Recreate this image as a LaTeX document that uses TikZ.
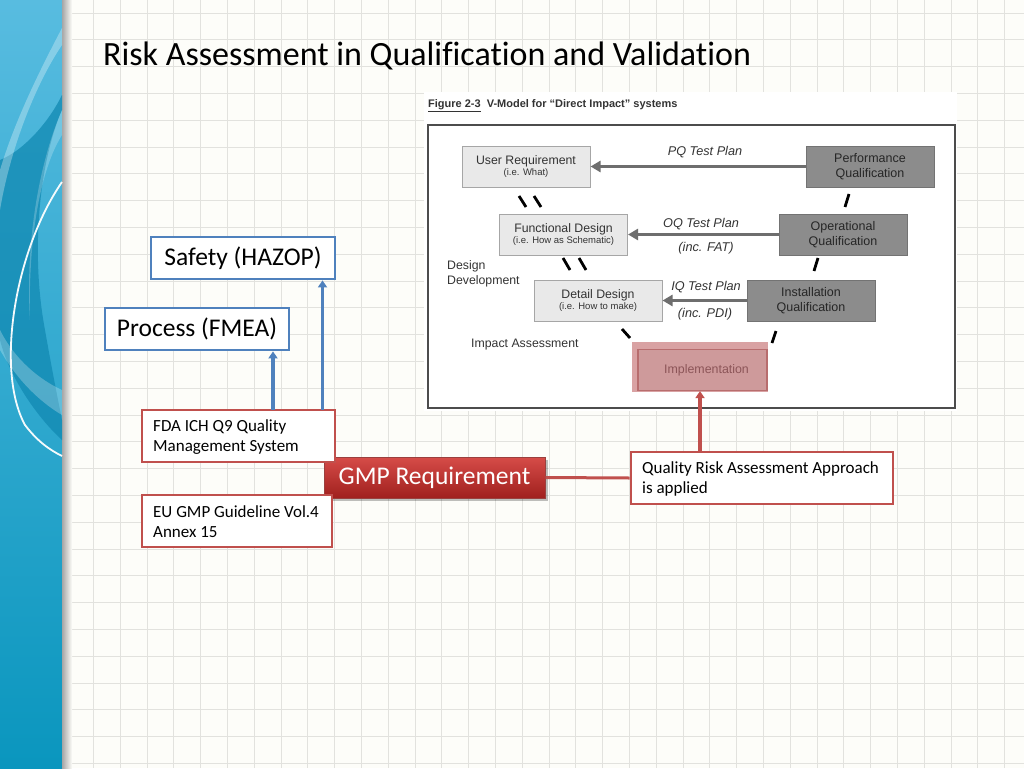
\documentclass[tikz,border=0pt]{standalone}
\usepackage{fontspec}
\setmainfont{Carlito}[RawFeature=-liga]
\newfontfamily\arialf{Liberation Sans}
\usetikzlibrary{arrows.meta}
\definecolor{bluebox}{HTML}{4F81BD}
\definecolor{redbox}{HTML}{C0504D}
\definecolor{gridc}{HTML}{E2E2DE}
\definecolor{bgc}{HTML}{FDFDF9}
\definecolor{lightbox}{HTML}{E9E9E9}
\definecolor{darkbox}{HTML}{8C8C8C}
\definecolor{arrowgray}{HTML}{6E6E6E}
\definecolor{pinkc}{HTML}{D9A2A3}
\definecolor{pinkb}{HTML}{B86D6E}
\definecolor{pinktext}{HTML}{8C5558}
\definecolor{figtext}{HTML}{333333}
\definecolor{paneltop}{HTML}{58BCE0}
\definecolor{panelbot}{HTML}{0A96BE}
\definecolor{paneldark}{HTML}{1189B2}
\definecolor{gmptop}{HTML}{D64C48}
\definecolor{gmpbot}{HTML}{A0201E}
\tikzset{
  bluenode/.style={draw=bluebox, line width=2.8pt, fill=white, minimum width=184pt, minimum height=42pt, inner sep=0pt, font=\fontsize{25.5}{30}\selectfont},
  rednode/.style={draw=redbox, line width=2.8pt, fill=white, minimum height=52pt, inner sep=0pt},
  smalltext/.style={anchor=west, align=left, font=\fontsize{17}{20}\selectfont, inner sep=0pt},
  vlight/.style={draw=gray!70, line width=1pt, fill=lightbox, minimum width=128pt, minimum height=41pt, inner sep=0pt, align=center, text=figtext},
  vdark/.style={draw=gray!90!black, line width=1pt, fill=darkbox, minimum width=128pt, minimum height=41pt, inner sep=0pt, align=center, text=black!85, font=\arialf\fontsize{12.5}{14.5}\selectfont},
  vlabel/.style={font=\arialf\itshape\fontsize{12.7}{15}\selectfont, text=figtext, inner sep=0pt},
  vplain/.style={font=\arialf\fontsize{12.3}{15}\selectfont, text=figtext, inner sep=0pt, align=left},
  varrow/.style={draw=arrowgray, line width=2.8pt, -{Triangle[length=10pt,width=11pt]}},
  slash/.style={draw=black, line width=2.8pt},
  bluearrow/.style={draw=bluebox, line width=3.4pt, -{Triangle[length=7pt,width=9pt]}},
  redarrow/.style={draw=redbox, line width=3.2pt, -{Triangle[length=7pt,width=9pt]}},
  redline/.style={draw=redbox, line width=3pt},
}
\newcommand{\vbigtxt}[1]{{\fontsize{12.3}{14}\selectfont #1}}
\newcommand{\vsmalltxt}[1]{{\fontsize{9.5}{12}\selectfont #1}}
\begin{document}
\begin{tikzpicture}[x=1pt,y=-1pt]
\useasboundingbox (0,0) rectangle (1024,768);
% background and grid
\fill[bgc] (0,0) rectangle (1024,768);
\foreach \i in {0,...,38} \draw[gridc, line width=0.9pt] (13+\i*26.8,0) -- ++(0,768);
\foreach \j in {0,...,28} \draw[gridc, line width=0.9pt] (0,13+\j*26.8) -- ++(1024,0);
% left panel
\shade[top color=paneltop, bottom color=panelbot] (0,0) rectangle (62,768);
\shade[left color=black!35, right color=bgc] (62,0) rectangle (72,768);
\fill[paneldark, opacity=0.75] (0,160) .. controls (25,150) and (50,120) .. (62,95) -- (62,110) .. controls (40,160) and (30,250) .. (45,330) .. controls (52,370) and (58,400) .. (62,420) -- (62,440) .. controls (40,420) and (10,380) .. (0,340) -- cycle;
\fill[white, opacity=0.3] (62,45) .. controls (35,85) and (10,150) .. (0,210) -- (0,170) .. controls (15,120) and (40,70) .. (62,28) -- cycle;
\fill[white, opacity=0.22] (62,110) .. controls (40,160) and (25,240) .. (30,320) .. controls (28,240) and (40,170) .. (62,135) -- cycle;
\draw[white, line width=1.8pt, opacity=0.95] (62,182) .. controls (15,250) and (-5,370) .. (25,425) .. controls (38,442) and (50,450) .. (62,456);
\fill[white, opacity=0.25] (62,390) .. controls (40,380) and (15,360) .. (0,330) -- (0,350) .. controls (20,385) and (45,405) .. (62,415) -- cycle;
% title
\node[anchor=base west, font=\fontsize{34}{40}\selectfont, inner sep=0pt] (title) at (103,65) {Risk Assessment in Qualification and Validation};
% figure area
\fill[white] (424,92) rectangle (957,411);
\node[anchor=base west, inner sep=0pt, font=\arialf\bfseries\fontsize{11}{13}\selectfont, text=figtext] (caption) at (428,107) {\underline{Figure 2-3}\hspace{6pt}V-Model for “Direct Impact” systems};
\draw[black!70, line width=1.3pt] (428,125) rectangle (955,408);
% V-model boxes
\node[vlight] (ur) at (526,166.5) {\arialf\vbigtxt{User Requirement}\\[-1pt]\arialf\vsmalltxt{(i.e. What)}};
\node[vdark] (pq) at (870,166.5) {Performance\\Qualification};
\node[vlight] (fd) at (563.5,234.5) {\arialf\vbigtxt{Functional Design}\\[-1pt]\arialf\vsmalltxt{(i.e. How as Schematic)}};
\node[vdark] (oq) at (843,234.5) {Operational\\Qualification};
\node[vlight] (dd) at (598,300.5) {\arialf\vbigtxt{Detail Design}\\[-1pt]\arialf\vsmalltxt{(i.e. How to make)}};
\node[vdark] (iq) at (811,300.5) {Installation\\Qualification};
\fill[pinkc] (632,342) rectangle (768,392);
\node[draw=pinkb, line width=1.2pt, fill=pinkc!95!black, minimum width=129pt, minimum height=41pt, inner sep=0pt, font=\arialf\fontsize{12.4}{14}\selectfont, text=pinktext] (impl) at (702.5,370) {\hspace{8pt}Implementation};
% V-model arrows and labels
\draw[varrow] (pq.west) -- (ur.east);
\draw[varrow] (oq.west) -- (fd.east);
\draw[varrow] (iq.west) -- (dd.east);
\node[vlabel] (pql) at (705,152) {PQ Test Plan};
\node[vlabel] (oql) at (701,224) {OQ Test Plan};
\node[vlabel] (fat) at (706,248) {(inc. FAT)};
\node[vlabel] (iql) at (706,287) {IQ Test Plan};
\node[vlabel] (pdi) at (705,314) {(inc. PDI)};
\node[vplain, anchor=west] (dev) at (447,274) {Design\\Development};
\node[vplain, anchor=west] (ia) at (471,345) {Impact Assessment};
% slashes
\draw[slash] (519,196) -- (526,207);
\draw[slash] (534,196) -- (541,207);
\draw[slash] (849,194) -- (845,207);
\draw[slash] (563,258) -- (570,270);
\draw[slash] (579,258) -- (586,270);
\draw[slash] (818,258) -- (814,271);
\draw[slash] (622,329) -- (630,338);
\draw[slash] (776,331) -- (772,343);
% left boxes
\node[bluenode] (safety) at (243,258) {Safety (HAZOP)};
\node[bluenode] (process) at (197,329) {Process (FMEA)};
\fill[black, opacity=0.25] (327,460) rectangle (548,501);
\node[draw=redbox!80!black, line width=1pt, top color=gmptop, bottom color=gmpbot, minimum width=221pt, minimum height=41pt, inner sep=0pt, text=white, font=\fontsize{25.5}{30}\selectfont] (gmp) at (434.5,477.5) {GMP Requirement};
\node[rednode, minimum width=193pt] (fda) at (238.5,436) {};
\node[smalltext] (fdat) at (153,437) {FDA ICH Q9 Quality\\Management System};
\node[rednode, minimum width=190pt] (eu) at (237,521) {};
\node[smalltext] (eut) at (153,521.5) {EU GMP Guideline Vol.4\\Annex 15};
\node[rednode, minimum width=262pt] (qra) at (762,478) {};
\node[smalltext] (qrat) at (642,478.5) {Quality Risk Assessment Approach\\is applied};
% connectors
\coordinate (b1) at (273,410);
\coordinate (b2) at (322.5,410);
\draw[bluearrow] (b1) -- (b1 |- process.south);
\draw[bluearrow] (b2) -- (b2 |- safety.south);
\draw[redline] (gmp.east) -- (qra.west);
\coordinate (r1) at (700,452);
\draw[redarrow] (r1) -- (r1 |- impl.south);
\end{tikzpicture}
\end{document}
